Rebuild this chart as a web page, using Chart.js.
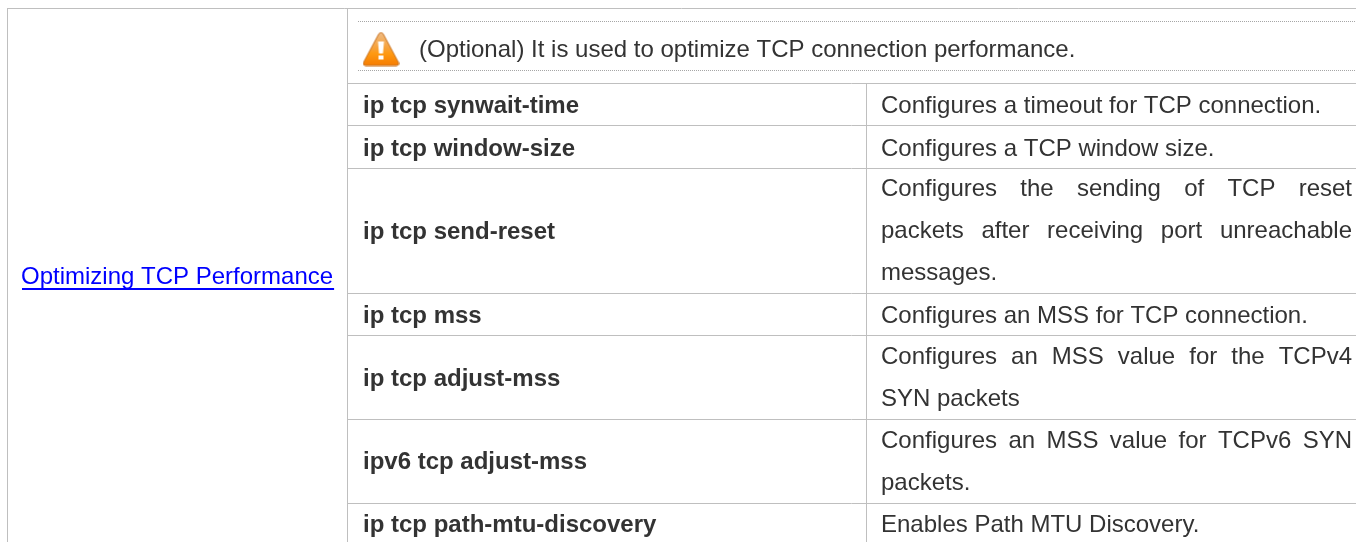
<!DOCTYPE html>
<html>
<head>
<meta charset="utf-8">
<title>TCP performance table</title>
<script src="https://cdn.jsdelivr.net/npm/chart.js@4"></script>
<style>
  html,body{margin:0;padding:0;background:#fff;}
  #wrap{width:1356px;height:542px;position:relative;}
</style>
</head>
<body>
<div id="wrap"><canvas id="tableChart"></canvas></div>
<script>
// --- DATA ---
const taskLabel = 'Optimizing TCP Performance';
const noteText = '(Optional) It is used to optimize TCP connection performance.';
const commands = ['ip tcp synwait-time','ip tcp window-size','ip tcp send-reset','ip tcp mss','ip tcp adjust-mss','ipv6 tcp adjust-mss','ip tcp path-mtu-discovery'];
const commandBaselines = [113,156,239,323,386,469,532];
const descriptions = [
  ['Configures a timeout for TCP connection.'],
  ['Configures a TCP window size.'],
  ['Configures the sending of TCP reset','packets after receiving port unreachable','messages.'],
  ['Configures an MSS for TCP connection.'],
  ['Configures an MSS value for the TCPv4','SYN packets'],
  ['Configures an MSS value for TCPv6 SYN','packets.'],
  ['Enables Path MTU Discovery.']
];
const descriptionBaselines = [[113],[156],[196,238,280],[323],[364,406],[448,490],[532]];
const rowRules = [83,125,168,293,335,419,503];
const noteRules = [21,70];
const columnRules = [7,347];
const splitRule = 866;

// --- COLORS ---
const ruleColor = '#bfbfbf';
const textColor = '#333333';
const linkColor = '#0000ff';
const fontFamily = '"Liberation Sans", Arial, sans-serif';
const fontSize = 24;

// warning triangle used as a point style
function warningIcon(){
  const c = document.createElement('canvas');
  c.width = 37; c.height = 35;
  const g = c.getContext('2d');
  const grad = g.createLinearGradient(0,0,0,35);
  grad.addColorStop(0,'#eebd8a');
  grad.addColorStop(0.5,'#f8a034');
  grad.addColorStop(0.62,'#ff9a12');
  grad.addColorStop(1,'#f57a00');
  g.beginPath();
  g.moveTo(18.5,1); g.quadraticCurveTo(20,1,21,3);
  g.lineTo(36,31); g.quadraticCurveTo(37,34,34,34);
  g.lineTo(3,34); g.quadraticCurveTo(0,34,1,31);
  g.lineTo(16,3); g.quadraticCurveTo(17,1,18.5,1);
  g.closePath();
  g.fillStyle = grad; g.fill();
  g.strokeStyle = '#c8701c'; g.lineWidth = 1; g.stroke();
  g.fillStyle = '#fff';
  g.beginPath();
  g.moveTo(15.5,10); g.lineTo(21.5,10); g.lineTo(20.5,22); g.lineTo(16.5,22); g.closePath();
  g.fill();
  g.fillRect(16,24,5,4);
  return c;
}

function lineSet(points, color, dash){
  return {type:'line', data:points, borderColor:color, borderWidth:1, borderDash:dash||[], pointRadius:0, fill:false, tension:0};
}

// --- RULES AND ICON ---
const datasets = [];
datasets.push(lineSet([{x:7,y:8.5},{x:1356,y:8.5}], ruleColor));
columnRules.forEach(x=>datasets.push(lineSet([{x:x+0.5,y:8},{x:x+0.5,y:542}], ruleColor)));
noteRules.forEach(y=>datasets.push(lineSet([{x:358,y:y+0.5},{x:1356,y:y+0.5}], '#a6a6a6', [1,1])));
rowRules.forEach(y=>datasets.push(lineSet([{x:347,y:y+0.5},{x:1356,y:y+0.5}], ruleColor)));
datasets.push(lineSet([{x:splitRule+0.5,y:rowRules[0]},{x:splitRule+0.5,y:542}], ruleColor));
datasets.push({type:'scatter', data:[{x:381,y:49}], pointStyle:warningIcon(), pointRadius:18, showLine:false});

// --- TEXT ---
function drawJustified(ctx, text, x, right, y){
  const words = text.split(' ');
  const total = words.reduce((a,w)=>a+ctx.measureText(w).width,0);
  const gap = (right-x-total)/(words.length-1);
  let cur = x;
  words.forEach(w=>{ ctx.fillText(w,cur,y); cur += ctx.measureText(w).width + gap; });
}

const tableText = {
  id:'tableText',
  afterDatasetsDraw(chart){
    const {ctx, scales:{x:sx, y:sy}} = chart;
    const px = v=>sx.getPixelForValue(v), py = v=>sy.getPixelForValue(v);
    ctx.save();
    ctx.textBaseline = 'alphabetic';
    ctx.textAlign = 'left';

    ctx.font = `${fontSize}px ${fontFamily}`;
    ctx.fillStyle = linkColor;
    ctx.fillText(taskLabel, px(21), py(284));
    const w = ctx.measureText(taskLabel).width;
    ctx.fillRect(px(22), py(288), w, 2);

    ctx.fillStyle = textColor;
    ctx.fillText(noteText, px(419), py(57));

    descriptions.forEach((lines,i)=>{
      lines.forEach((line,j)=>{
        const y = py(descriptionBaselines[i][j]);
        if(j < lines.length-1) drawJustified(ctx, line, px(881), px(1352), y);
        else ctx.fillText(line, px(881), y);
      });
    });

    ctx.font = `bold ${fontSize}px ${fontFamily}`;
    commands.forEach((cmd,i)=>ctx.fillText(cmd, px(363), py(commandBaselines[i])));
    ctx.restore();
  }
};

// --- CHART ---
new Chart(document.getElementById('tableChart'), {
  data:{datasets},
  options:{
    responsive:true,
    maintainAspectRatio:false,
    animation:false,
    events:[],
    layout:{padding:0, autoPadding:false},
    plugins:{legend:{display:false},tooltip:{enabled:false}},
    scales:{
      x:{type:'linear',min:0,max:1356,display:false},
      y:{type:'linear',min:0,max:542,reverse:true,display:false}
    }
  },
  plugins:[tableText]
});
</script>
</body>
</html>
